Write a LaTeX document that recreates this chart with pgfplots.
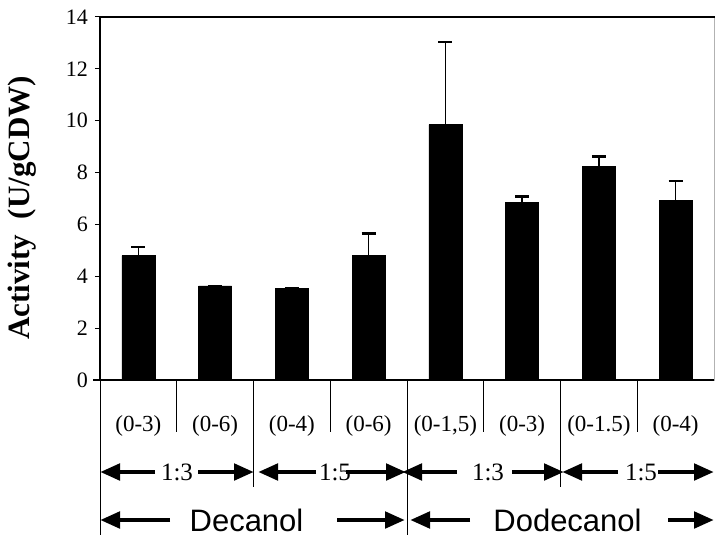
\documentclass[border=0pt]{standalone}
\usepackage{fontspec}
\setmainfont{Liberation Serif}
\newfontfamily\arialfont{Liberation Sans}
\usepackage{pgfplots}
\pgfplotsset{compat=1.18}
\usepackage{pgfplotstable}
\usetikzlibrary{arrows.meta}

% activity (mean) and upper error per condition
\pgfplotstableread{
x y e
1 4.80 0.34
2 3.63 0.00
3 3.52 0.03
4 4.80 0.85
5 9.85 3.20
6 6.86 0.22
7 8.23 0.39
8 6.94 0.73
}\activity

\begin{document}
\begin{tikzpicture}
\begin{axis}[
  scale only axis, width=307pt, height=181.5pt,
  xmin=0.5, xmax=8.5, ymin=0, ymax=14,
  ytick={0,2,...,14},
  xtick={1,...,8},
  xticklabels={(0-3),(0-6),(0-4),(0-6),(0-1,5),(0-3),(0-1.5),(0-4)},
  tick pos=left, tick align=outside,
  major tick length=2.5pt,
  ytick style={line width=0.5pt, black},
  xtick style={draw=none},
  xticklabel style={font=\fontsize{11.5}{13}\selectfont, anchor=center, yshift=-20.5pt},
  yticklabel style={font=\fontsize{11}{12}\selectfont},
  /pgf/number format/assume math mode=true,
  axis line style={draw=gray!60, line width=0.4pt},
  ylabel={Activity\ \ (U/gCDW)},
  ylabel style={font=\fontsize{15.5}{18}\selectfont\bfseries, at={(axis description cs:-0.127,0.474)}, anchor=center},
  clip=false,
]
\addplot[ybar, bar width=16.5pt, fill=black, draw=black, line width=0.3pt,
  error bars/.cd, y dir=plus, y explicit,
  error mark=|,
  error mark options={line width=1.1pt, mark size=3.5pt, black},
  error bar style={line width=0.8pt, black}]
  table[x=x, y=y, y error=e] {\activity};
\end{axis}
\begin{scope}[x=0.5pt, y=0.5pt]
  % frame: heavy left and top edges, baseline
  \draw[line width=1.4pt, line cap=rect] (0,0) -- (0,363) -- (614,363);
  \draw[line width=0.8pt] (-7,0) -- (614,0);
  % category separators
  \foreach \k in {1,3,5,7} \draw[line width=0.5pt] (76.75*\k,0) -- (76.75*\k,-52);
  \foreach \k in {2,6} \draw[line width=0.5pt] (76.75*\k,0) -- (76.75*\k,-107);
  \foreach \k in {0,4} \draw[line width=0.5pt] (76.75*\k,0) -- (76.75*\k,-155);
  \tikzset{span/.style={line width=2.4pt, -{Triangle[length=10pt, width=8pt]}}}
  % ratio row
  \draw[span] (55,-92) -- (0,-92);
  \draw[span] (98,-92) -- (154,-92);
  \node[font=\fontsize{12.5}{14}\selectfont] at (77,-92) {1:3};
  \draw[span] (216,-92) -- (158,-92);
  \draw[span] (246,-92) -- (306,-92);
  \node[font=\fontsize{12.5}{14}\selectfont] at (235,-92) {1:5};
  \draw[span] (357,-92) -- (302,-92);
  \draw[span] (412,-92) -- (464,-92);
  \node[font=\fontsize{12.5}{14}\selectfont] at (388,-92) {1:3};
  \draw[span] (518,-92) -- (462,-92);
  \draw[span] (558,-92) -- (614,-92);
  \node[font=\fontsize{12.5}{14}\selectfont] at (541,-92) {1:5};
  % alcohol row
  \draw[span] (70,-140) -- (0,-140);
  \draw[span] (237,-140) -- (305,-140);
  \node[font=\arialfont\fontsize{15.5}{18}\selectfont] at (146.5,-140) {Decanol};
  \draw[span] (370,-140) -- (310,-140);
  \draw[span] (568,-140) -- (614,-140);
  \node[font=\arialfont\fontsize{15.5}{18}\selectfont] at (467.5,-140) {Dodecanol};
  \pgfresetboundingbox
  \path[use as bounding box] (-100,-155) rectangle (615,380);
\end{scope}
\end{tikzpicture}
\end{document}
